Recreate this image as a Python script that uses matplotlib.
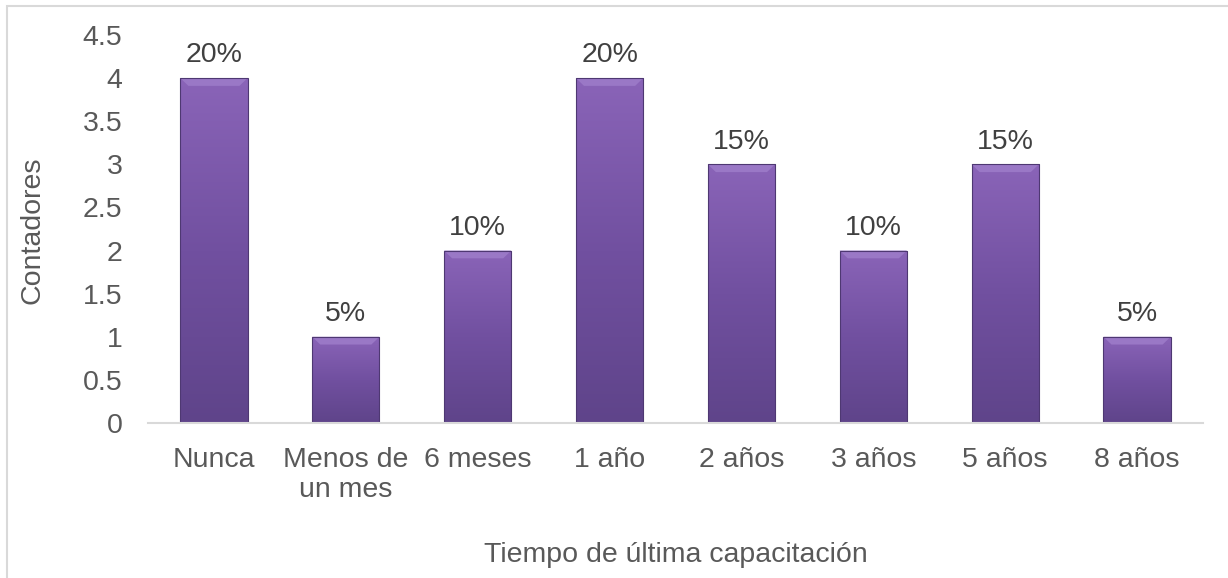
import matplotlib
matplotlib.use("Agg")
import matplotlib.pyplot as plt
import numpy as np
from matplotlib.colors import LinearSegmentedColormap
from matplotlib.patches import Rectangle

categories = ["Nunca", "Menos de\nun mes", "6 meses", "1 año", "2 años", "3 años", "5 años", "8 años"]
counts = [4, 1, 2, 4, 3, 2, 3, 1]
percent_labels = ["20%", "5%", "10%", "20%", "15%", "10%", "15%", "5%"]
x_title = "Tiempo de última capacitación"
y_title = "Contadores"
y_ticks = [0, 0.5, 1, 1.5, 2, 2.5, 3, 3.5, 4, 4.5]
y_tick_labels = ["0", "0.5", "1", "1.5", "2", "2.5", "3", "3.5", "4", "4.5"]

plt.rcParams['font.family'] = ['Liberation Sans', 'DejaVu Sans']
FS = 20.5
tick_color = "#595959"

fig = plt.figure(figsize=(12.28, 5.78), dpi=100)
ax = fig.add_axes([148/1228, 1-423/578, (1203-148)/1228, (423-35)/578])

# figure border
fig.patches.append(Rectangle((7/1228, -0.1), 1.2, (1-6/578)+0.1, transform=fig.transFigure,
                             fill=False, edgecolor="#d9d9d9", linewidth=1.5, zorder=0))

x = np.arange(len(categories))
width = 0.51
cmap = LinearSegmentedColormap.from_list("pur", ["#5f448a", "#7150a0", "#8a64b8"])
grad = np.linspace(0, 1, 256).reshape(-1, 1)

bars = ax.bar(x, counts, width=width, color="none", edgecolor="#4e3872", linewidth=0.8, zorder=3)
for b in bars:
    x0, y0 = b.get_x(), b.get_y()
    w, h = b.get_width(), b.get_height()
    im = ax.imshow(grad, cmap=cmap, aspect="auto", origin="lower",
                   extent=[x0, x0 + w, y0, y0 + h], zorder=2)
    im.set_clip_path(b)
    # subtle top bevel
    bev = 0.09
    ax.fill([x0, x0 + w, x0 + w - w*0.12, x0 + w*0.12], [y0 + h, y0 + h, y0 + h - bev, y0 + h - bev],
            color="#9a78c6", zorder=2.5, lw=0)

for xi, v, lab in zip(x, counts, percent_labels):
    ax.annotate(lab, (xi, v), xytext=(0, 7), textcoords="offset points",
                ha="center", va="bottom", fontsize=FS, color="#404040")

ax.set_xlim(-0.5, len(categories) - 0.5)
ax.set_ylim(0, 4.5)
ax.set_yticks(y_ticks)
ax.set_yticklabels(y_tick_labels)
ax.set_xticks(x)
ax.set_xticklabels(categories, linespacing=1.2)
ax.tick_params(axis="y", length=0, pad=18.5, labelsize=FS, labelcolor=tick_color)
ax.tick_params(axis="x", length=0, pad=17, labelsize=FS, labelcolor=tick_color)

for s in ["top", "right", "left"]:
    ax.spines[s].set_visible(False)
ax.spines["bottom"].set_color("#d9d9d9")
ax.spines["bottom"].set_linewidth(1.5)
ax.spines["bottom"].set_zorder(4)

fig.text(676/1228, 1-555/578, x_title, ha="center", va="center", fontsize=FS, color=tick_color)
fig.text(33/1228, 1-230/578, y_title, ha="center", va="center", rotation=90, fontsize=FS, color=tick_color)

fig.savefig("out.png", dpi=100, facecolor="white")
